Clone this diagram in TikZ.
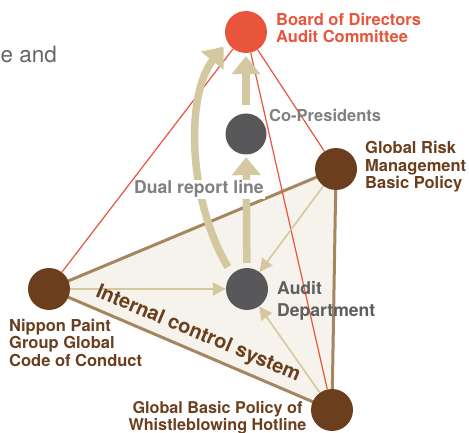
\documentclass[tikz,border=0pt]{standalone}
\usepackage{fontspec}
\setmainfont{TeX Gyre Heros}
\usetikzlibrary{arrows.meta}

\definecolor{boardred}{HTML}{E9553A}
\definecolor{darkgrey}{HTML}{58575A}
\definecolor{policybrown}{HTML}{6B3F1D}
\definecolor{beige}{HTML}{D3C8A0}
\definecolor{triedgec}{HTML}{A5865F}
\definecolor{trifill}{HTML}{F6F3EC}
\definecolor{labelgrey}{HTML}{808080}
\definecolor{labeldark}{HTML}{5E5E5E}
\definecolor{bodygrey}{HTML}{666666}

\begin{document}
\begin{tikzpicture}[x=1pt,y=-1pt,
  dot/.style={circle, minimum size=42pt, inner sep=0pt},
  lbl/.style={font=\bfseries\fontsize{16.5}{17.5}\selectfont, inner sep=0pt, align=left, anchor=base west},
  redline/.style={draw=boardred, line width=1.2pt},
  thinarrow/.style={draw=beige, line width=1.6pt, -{Triangle[length=13pt,width=13pt]}},
  thickarrow/.style={draw=beige, line width=7.5pt, -{Triangle[length=18pt,width=28pt]}},
  triedge/.style={draw=triedgec, line width=3pt, line join=round}]
\useasboundingbox (0,0) rectangle (469,433);

% circle positions (filled later, on top of the lines)
\path (246,32)  node[dot] (board) {}
      (246,134) node[dot] (copres) {}
      (336,169) node[dot] (risk) {}
      (247,289) node[dot] (audit) {}
      (49,289)  node[dot] (nippon) {}
      (332,410) node[dot] (whistle) {};

% internal control triangle
\fill[trifill] (nippon.center) -- (risk.center) -- (whistle.center) -- cycle;
\draw[triedge] (nippon.center) -- (risk.center) -- (whistle.center) -- cycle;

% reporting lines to the board
\draw[redline] (board) -- (nippon);
\draw[redline] (board) -- (whistle);
\draw[redline] (board) -- (risk);

% thin arrows into the audit department
\draw[thinarrow] (nippon) -- (audit);
\draw[thinarrow] (risk) -- (audit);
\draw[thinarrow] (whistle) -- (audit);

% thick report arrows
\draw[thickarrow, shorten <=8pt, shorten >=3pt] (copres) -- (board);
\draw[thickarrow, shorten <=5pt, shorten >=2pt] (audit) -- (copres);
\draw[thickarrow, shorten <=8pt, shorten >=6pt]
  (audit.135) .. controls (188,200) and (185,95) .. (board.208);

% circles
\fill[boardred] (board) circle (21pt);
\fill[darkgrey] (copres) circle (20.5pt);
\fill[darkgrey] (audit) circle (21pt);
\fill[policybrown] (risk) circle (21pt);
\fill[policybrown] (nippon) circle (21pt);
\fill[policybrown] (whistle) circle (21pt);

% labels (anchored at the baseline of their last line)
\node[lbl, text=boardred, font=\bfseries\fontsize{16.5}{17}\selectfont] (boardlbl) at (276,43) {Board of Directors\\Audit Committee};
\node[lbl, text=labelgrey] (copreslbl) at (269,122) {Co-Presidents};
\node[lbl, text=policybrown] (risklbl) at (365,189) {Global Risk\\Management\\Basic Policy};
\node[lbl, text=labeldark, font=\bfseries\fontsize{17.6}{22}\selectfont] (auditlbl) at (277,316) {Audit\\Department};
\node[lbl, text=policybrown] (nipponlbl) at (9,366) {Nippon Paint\\Group Global\\Code of Conduct};
\node[lbl, text=policybrown, align=center, anchor=base, font=\bfseries\fontsize{16.2}{16.5}\selectfont] (whistlelbl) at (217.5,430) {Global Basic Policy of\\Whistleblowing Hotline};
\node[lbl, text=labelgrey, fill=white, inner xsep=1pt, inner ysep=1pt, font=\bfseries\fontsize{17.6}{18}\selectfont] (duallbl) at (133,194) {Dual report line};
\node[text=policybrown, font=\bfseries\fontsize{20}{24}\selectfont, inner sep=0pt, anchor=base, rotate=-22.8] (icslbl) at (196,339) {Internal control system};
\node[text=bodygrey, font=\fontsize{22.5}{27}\selectfont, inner sep=0pt, anchor=base east] (bodytext) at (57,63) {e and};
\end{tikzpicture}
\end{document}
